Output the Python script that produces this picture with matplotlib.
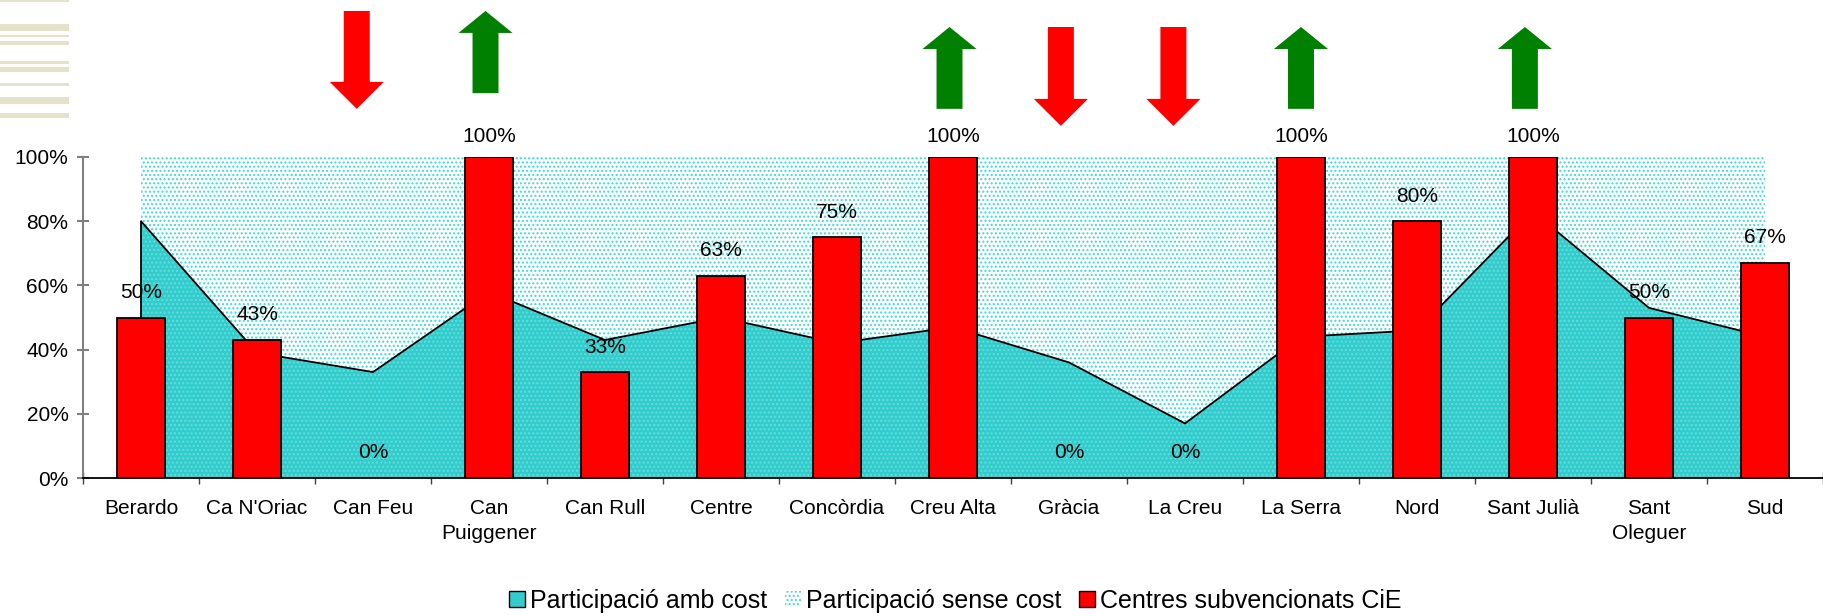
import numpy as np
import matplotlib
matplotlib.use("Agg")
import matplotlib.pyplot as plt
from matplotlib.patches import FancyArrow, Patch, Rectangle

plt.rcParams["font.family"] = ["Liberation Sans", "DejaVu Sans"]
plt.rcParams["hatch.linewidth"] = 1.0

# ---- data ----
centres = ["Berardo", "Ca N'Oriac", "Can Feu", "Can\nPuiggener", "Can Rull", "Centre",
           "Concòrdia", "Creu Alta", "Gràcia", "La Creu", "La Serra", "Nord",
           "Sant Julià", "Sant\nOleguer", "Sud"]
amb_cost = [80, 39, 33, 58, 43, 50, 42, 47, 36, 17, 44, 46, 83, 53, 44]      # % participació amb cost
sense_cost = [100 - v for v in amb_cost]                                    # stacked up to 100%
cie = [50, 43, 0, 100, 33, 63, 75, 100, 0, 0, 100, 80, 100, 50, 67]         # centres subvencionats CiE

# trend arrows above the chart
arrow_cats = ["Can Feu", "Can\nPuiggener", "Creu Alta", "Gràcia", "La Creu", "La Serra", "Sant Julià"]
arrow_dirs = ["down", "up", "up", "down", "down", "up", "up"]

# arrow layout (hand placed shapes in the original)
arrow_shift = [-0.14, -0.03, -0.03, -0.07, -0.10, 0.0, -0.07]
arrow_top = [1.455, 1.455, 1.405, 1.405, 1.405, 1.405, 1.405]
arrow_bot = [1.150, 1.199, 1.150, 1.097, 1.097, 1.150, 1.150]

# decorative stripes top-left (pixel rows)
stripes = [(0, 1), (24, 30), (35, 36), (41, 44), (61, 63), (67, 71), (83, 85), (97, 103), (113, 117)]

W, H = 1823, 616
fig = plt.figure(figsize=(W / 100, H / 100), dpi=100)
ax = fig.add_axes([83 / W, 138 / H, 1740 / W, 321 / H])

x = np.arange(len(centres))
amb = np.array(amb_cost) / 100
sense = np.array(sense_cost) / 100
bars = np.array(cie) / 100

turq = "#33CCCC"
# participació sense cost (dotted, stacked on top)
ax.fill_between(x, amb, amb + sense, facecolor="white", edgecolor="#3FD9D9",
                hatch="....", linewidth=0, zorder=1)
# participació amb cost
ax.fill_between(x, 0, amb, facecolor=turq, edgecolor="#66DDDD",
                hatch="....", linewidth=0, zorder=2)
ax.fill_between(x, 0, amb, facecolor="none", edgecolor="black", linewidth=1.3, zorder=3)

# bars
ax.bar(x, bars, width=0.42, color="#FF0000", edgecolor="black", linewidth=1.3, zorder=4)
for xi, v in zip(x, cie):
    off = 14.5 if v == 100 else 18
    ax.annotate(f"{v}%", (xi, v / 100), xytext=(0, off), textcoords="offset points",
                ha="center", va="center", fontsize=15, zorder=6)

# arrows
for cat, d, dx, top, bot in zip(arrow_cats, arrow_dirs, arrow_shift, arrow_top, arrow_bot):
    xi = centres.index(cat) + dx
    if d == "up":
        arr = FancyArrow(xi, bot, 0, top - bot, width=0.224, head_width=0.466,
                         head_length=0.0685, length_includes_head=True,
                         color="#008000", linewidth=0, clip_on=False, zorder=5)
    else:
        arr = FancyArrow(xi, top, 0, bot - top, width=0.224, head_width=0.466,
                         head_length=0.084, length_includes_head=True,
                         color="#FF0000", linewidth=0, clip_on=False, zorder=5)
    ax.add_patch(arr)

# axes styling
ax.set_xlim(-0.5, len(centres) - 0.5)
ax.set_ylim(0, 1)
ax.set_yticks(np.arange(0, 1.01, 0.2))
ax.set_yticklabels([f"{int(round(t * 100))}%" for t in np.arange(0, 1.01, 0.2)], fontsize=15)
ax.set_xticks(x)
ax.set_xticklabels(centres, fontsize=15, linespacing=1.4)
ax.set_xticks(np.arange(-0.5, len(centres), 1), minor=True)
ax.tick_params(axis="x", which="major", length=0, pad=15)
ax.tick_params(axis="x", which="minor", direction="inout", length=8, color="#404040", width=1)
ax.tick_params(axis="y", direction="inout", length=9, color="#808080", width=1.5, pad=6)
for s in ["top", "right"]:
    ax.spines[s].set_visible(False)
ax.spines["left"].set_color("#808080")
ax.spines["left"].set_linewidth(1.5)
ax.spines["bottom"].set_color("black")
ax.spines["bottom"].set_linewidth(1.3)
ax.spines["bottom"].set_zorder(7)

# legend
handles = [Patch(facecolor=turq, edgecolor="black", linewidth=1),
           Patch(facecolor="white", edgecolor="#3FD9D9", hatch="....", linewidth=0),
           Patch(facecolor="#FF0000", edgecolor="black", linewidth=1)]
labels = ["Participació amb cost", "Participació sense cost", "Centres subvencionats CiE"]
fig.legend(handles, labels, loc="center", bbox_to_anchor=(955 / W, 15 / H), ncol=3,
           frameon=False, fontsize=18, handlelength=0.64, handleheight=0.64,
           handletextpad=0.2, columnspacing=0.7, borderpad=0)

# top-left stripes
for y0, y1 in stripes:
    fig.patches.append(Rectangle((0, 1 - (y1 + 1) / H), 69 / W, (y1 + 1 - y0) / H,
                                 transform=fig.transFigure, facecolor="#E4E2C8",
                                 edgecolor="none"))

fig.savefig("out.png", dpi=100)
